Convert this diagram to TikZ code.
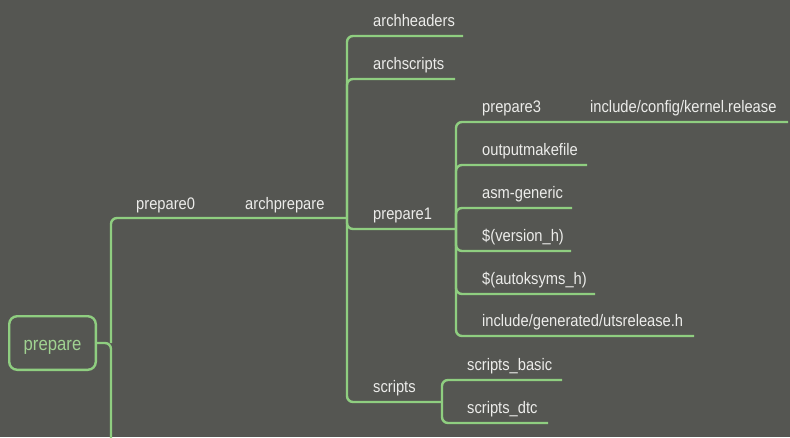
\documentclass[tikz,border=0pt]{standalone}
\usepackage{fontspec}
\setmainfont{Liberation Sans}[FakeStretch=0.88]
\definecolor{bgcol}{RGB}{85,86,82}
\definecolor{lgreen}{RGB}{143,206,128}
\definecolor{rootgreen}{RGB}{160,210,145}
\definecolor{ltext}{RGB}{236,236,234}
\tikzset{
  branch/.style={draw=lgreen,line width=2.4pt,rounded corners=6pt},
  lbl/.style={anchor=base west,inner sep=0pt,text=ltext,font=\fontsize{16.7}{20}\selectfont},
  rootbox/.style={draw=lgreen,line width=2.4pt,rounded corners=8pt,minimum width=86.6pt,
    minimum height=53.6pt,inner sep=0pt,text height=14pt,text depth=0pt,
    text=rootgreen,font=\fontsize{19}{22}\selectfont}
}
\begin{document}
\begin{tikzpicture}[x=1pt,y=-1pt]
\fill[bgcol](0,0)rectangle(790,437);
\useasboundingbox(0,0)rectangle(790,437);
\clip(0,0)rectangle(790,437);
% root and first spine
\node[rootbox](root)at(52.5,343){prepare};
\coordinate(j0)at(111,343);
\coordinate(bot)at(111,445);
\coordinate(j1)at(347,218);
\draw[branch](root.east)--(j0)--(bot);
\draw[branch](j0)|-(j1);
\node[lbl](p0)at(136,209){prepare0};
\node[lbl](archprep)at(245,209){archprepare};
% children of archprepare
\coordinate(archhdr-e)at(463,36);
\coordinate(archscr-e)at(455,79);
\coordinate(j2)at(456,229);
\coordinate(j3)at(442,402);
\foreach \e in {archhdr-e,archscr-e,j2,j3}
  \draw[branch](j1)|-(\e);
\node[lbl](archhdr)at(373,26){archheaders};
\node[lbl](archscr)at(373,69){archscripts};
\node[lbl](prep1)at(373,219){prepare1};
\node[lbl](scr)at(373,392){scripts};
% children of prepare1
\coordinate(prep3-e)at(788,122);
\coordinate(outmk-e)at(587,165);
\coordinate(asmgen-e)at(572,208);
\coordinate(verh-e)at(571,251);
\coordinate(autoks-e)at(595,294);
\coordinate(utsrel-e)at(694,336);
\foreach \e in {prep3-e,outmk-e,asmgen-e,verh-e,autoks-e,utsrel-e}
  \draw[branch](j2)|-(\e);
\node[lbl](prep3)at(482,112){prepare3};
\node[lbl](kernrel)at(590,112){include/config/kernel.release};
\node[lbl](outmk)at(482,155){outputmakefile};
\node[lbl](asmgen)at(482,198){asm-generic};
\node[lbl](verh)at(482,241){\$(version\_h)};
\node[lbl](autoks)at(482,284){\$(autoksyms\_h)};
\node[lbl](utsrel)at(482,326){include/generated/utsrelease.h};
% children of scripts
\coordinate(scrbasic-e)at(562,380);
\coordinate(scrdtc-e)at(548,423);
\foreach \e in {scrbasic-e,scrdtc-e}
  \draw[branch](j3)|-(\e);
\node[lbl](scrbasic)at(467,370){scripts\_basic};
\node[lbl](scrdtc)at(467,413){scripts\_dtc};
\end{tikzpicture}
\end{document}
